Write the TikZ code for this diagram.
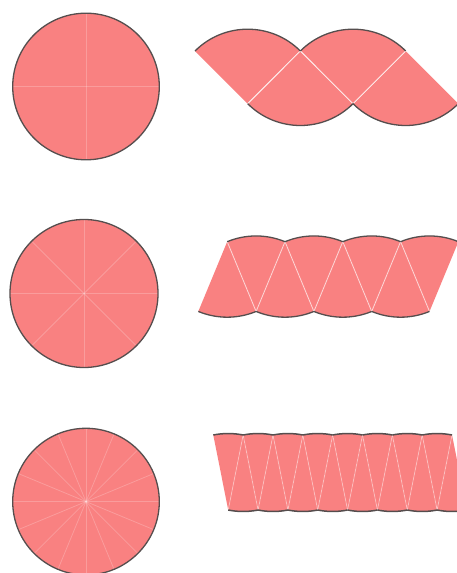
\documentclass[tikz,border=0pt]{standalone}
\definecolor{pinkfill}{RGB}{249,129,129}
\definecolor{rimcol}{RGB}{85,78,78}
\tikzset{
  pfill/.style={fill=pinkfill, draw=none},
  rim/.style={draw=rimcol, line width=1.3pt},
  cutline/.style={draw=white, line width=0.9pt},
  circline/.style={draw=white, draw opacity=0.22, line width=0.8pt},
}
% #1 x0, #2 topY, #3 botY, #4 half chord, #5 r, #6 half angle, #7 n, #8 0 if P0 is top, 1 if bottom
\newcommand{\sectorrow}[8]{%
  \pgfmathtruncatemacro\nlast{#7-1}%
  \foreach \i in {0,...,\nlast}{%
    \pgfmathsetmacro\ax{#1+(\i+1)*#4}%
    \pgfmathtruncatemacro\apar{mod(\i+1+#8,2)}%
    \ifnum\apar=0
      \fill[pfill] (\ax,#2) -- ++(270-#6:#5) arc[start angle=270-#6, end angle=270+#6, radius=#5] -- cycle;
    \else
      \fill[pfill] (\ax,#3) -- ++(90-#6:#5) arc[start angle=90-#6, end angle=90+#6, radius=#5] -- cycle;
    \fi
  }%
  \pgfmathtruncatemacro\mlast{#7-1}%
  \foreach \j in {1,...,\mlast}{%
    \pgfmathsetmacro\xa{#1+\j*#4}%
    \pgfmathsetmacro\xb{#1+(\j+1)*#4}%
    \pgfmathtruncatemacro\jpar{mod(\j+#8,2)}%
    \ifnum\jpar=0
      \draw[cutline] (\xa,#2) -- (\xb,#3);
    \else
      \draw[cutline] (\xa,#3) -- (\xb,#2);
    \fi
  }%
  \foreach \i in {0,...,\nlast}{%
    \pgfmathsetmacro\ax{#1+(\i+1)*#4}%
    \pgfmathtruncatemacro\apar{mod(\i+1+#8,2)}%
    \ifnum\apar=0
      \draw[rim] (\ax,#2) ++(270-#6:#5) arc[start angle=270-#6, end angle=270+#6, radius=#5];
    \else
      \draw[rim] (\ax,#3) ++(90-#6:#5) arc[start angle=90-#6, end angle=90+#6, radius=#5];
    \fi
  }%
}
% #1 cx, #2 cy, #3 r, #4 step angle
\newcommand{\slicedcircle}[4]{%
  \fill[pfill] (#1,#2) circle[radius=#3];
  \foreach \a in {0,#4,...,359}{%
    \draw[circline] (#1,#2) -- ++(\a:#3);
  }%
  \draw[rim] (#1,#2) circle[radius=#3];
}
\begin{document}
\begin{tikzpicture}[x=1pt,y=1pt]
  \useasboundingbox (0,0) rectangle (457,573);
  \fill[white] (0,0) rectangle (457,573);
  \clip (0,0) rectangle (457,573);
  % circles
  \slicedcircle{86}{486.5}{73.3}{90}
  \slicedcircle{84}{279.5}{74}{45}
  \slicedcircle{86}{71.4}{73.3}{22.5}
  % rearranged rows
  \begin{scope}[cutline/.append style={draw opacity=0.85}]
    \sectorrow{195}{522}{469.3}{52.68}{74.5}{45}{4}{0}
  \end{scope}
  \begin{scope}[cutline/.append style={draw opacity=0.6}]
    \sectorrow{198.3}{331.3}{261.55}{28.9}{75.5}{22.5}{8}{1}
  \end{scope}
  \begin{scope}[cutline/.append style={draw opacity=0.35}, rim/.append style={line width=1.5pt}]
    \sectorrow{213.3}{138}{62.97}{14.92}{76.5}{11.25}{16}{0}
  \end{scope}
\end{tikzpicture}
\end{document}
